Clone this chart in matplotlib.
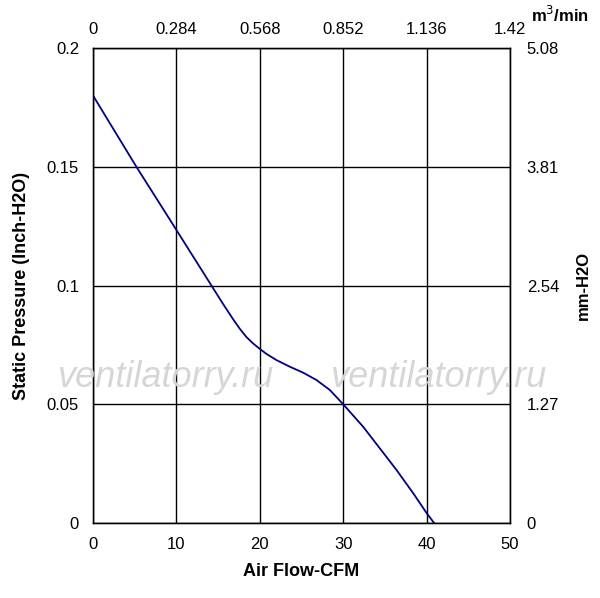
import matplotlib.pyplot as plt

# Curve (CFM, inch-H2O)
flow_cfm = [0, 5.2, 10, 14.2, 15.6, 16.8, 17.6, 18.4, 19.2, 20.0, 20.8, 22.0,
            23.6, 25.2, 26.8, 28.4, 30.0, 32.4, 34.4, 36.4, 38.4, 40.0, 40.9]
pressure_inh2o = [0.18, 0.15, 0.1234, 0.1, 0.0922, 0.0858, 0.0818, 0.0783, 0.0756,
                  0.0733, 0.0712, 0.0686, 0.0658, 0.0633, 0.0602, 0.0560, 0.0500,
                  0.0405, 0.0314, 0.0223, 0.0125, 0.0042, 0.0]

x_ticks = [0, 10, 20, 30, 40, 50]
y_ticks = [0, 0.05, 0.1, 0.15, 0.2]
left_labels = ["0", "0.05", "0.1", "0.15", "0.2"]
top_labels = ["0", "0.284", "0.568", "0.852", "1.136", "1.42"]
right_labels = ["0", "1.27", "2.54", "3.81", "5.08"]

plt.rcParams['font.family'] = ['Liberation Sans', 'DejaVu Sans']

fig = plt.figure(figsize=(6, 5.98), dpi=100)
ax = fig.add_axes([0.155, 0.1254, 0.695, 0.7943])

# Watermark behind the grid
for xw in [0.275, 0.73]:
    fig.text(xw, 0.368, 'ventilatorry.ru', fontsize=26, style='italic',
             color='#d6d6d6', ha='center', va='center', zorder=0)
ax.patch.set_alpha(0)

ax.plot(flow_cfm, pressure_inh2o, color='#000080', linewidth=1.3, zorder=3)

ax.set_xlim(0, 50)
ax.set_ylim(0, 0.2)
ax.set_xticks(x_ticks)
ax.set_yticks(y_ticks)
ax.set_xticklabels([str(t) for t in x_ticks])
ax.set_yticklabels(left_labels)
ax.tick_params(length=0, labelsize=12, pad=10)
ax.grid(True, color='black', linewidth=1)
for s in ax.spines.values():
    s.set_linewidth(1)

ax.set_xlabel('Air Flow-CFM', fontsize=13, fontweight='bold', labelpad=8)
ax.set_ylabel('Static Pressure (Inch-H2O)', fontsize=13, fontweight='bold', labelpad=12)

# Secondary axes with converted units
top = ax.twiny()
top.set_xlim(ax.get_xlim())
top.set_xticks(x_ticks)
top.set_xticklabels(top_labels)
top.tick_params(length=0, labelsize=12, pad=8)

right = ax.twinx()
right.set_ylim(ax.get_ylim())
right.set_yticks(y_ticks)
right.set_yticklabels(right_labels)
right.tick_params(length=0, labelsize=12, pad=12)
right.set_ylabel('mm-H2O', fontsize=12, fontweight='bold', labelpad=12)

fig.text(0.933, 0.975, 'm$^3$/min', fontsize=12, fontweight='bold', ha='center', va='center')

fig.savefig('out.png', dpi=100)
